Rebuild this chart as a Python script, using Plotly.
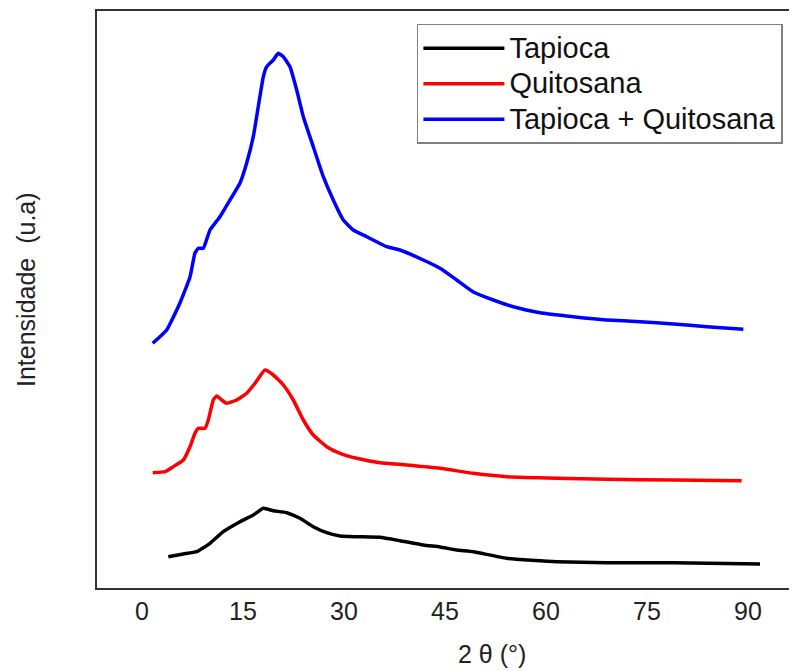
import plotly.graph_objects as go

# ---- data (2θ in degrees, intensity in arbitrary units) ----
tap_quit_x = [1.59, 3.67, 5.64, 7.13, 7.87, 8.36, 9.10, 10.10, 11.58, 13.07, 14.56, 15.55,
              16.53, 17.27, 18.02, 18.52, 19.50, 20.24, 20.99, 21.98, 22.98, 23.96, 25.44,
              26.93, 28.41, 29.90, 31.38, 33.37, 36.34, 38.32, 41.78, 44.26, 46.74, 49.21,
              52.18, 55.15, 59.11, 64.06, 69.02, 73.96, 78.91, 83.87, 89.31]
tap_quit_y = [244.7, 258, 285, 311, 335, 339.7, 339.7, 358, 371.3, 388, 405, 425,
              451.3, 481.3, 511.3, 521.3, 528, 534.7, 531.3, 521.3, 498, 471.3, 441.3,
              411.3, 388, 368, 358, 351.3, 341.3, 338, 328, 319.7, 308, 296,
              288, 281.3, 275.3, 271.3, 268, 266.3, 264, 261.3, 258.7]

quit_x = [1.59, 3.42, 4.65, 6.14, 7.13, 7.87, 8.36, 9.36, 9.85, 10.59, 11.10, 11.84,
          12.58, 14.07, 15.55, 16.78, 18.27, 19.50, 20.99, 22.47, 23.96, 25.44, 27.43,
          29.41, 31.89, 35.34, 39.31, 44.26, 49.21, 54.16, 61.58, 69.02, 78.91, 89.06]
quit_y = [115.3, 116.3, 121.3, 128, 141.3, 154.7, 159.7, 159.7, 168, 188, 192, 188,
          184.7, 188, 194.7, 204.7, 218, 213, 203, 188, 168, 153, 141.3,
          134.7, 129.7, 125.3, 123, 119.7, 114.7, 111.3, 109.7, 108.7, 108, 107.3]

tap_x = [3.91, 6.13, 8.12, 10.10, 12.07, 14.56, 16.53, 18.02, 19.50, 21.49, 23.46, 25.44,
         27.43, 29.41, 31.89, 35.34, 38.32, 41.78, 44.26, 46.74, 49.21, 54.16, 61.58,
         69.02, 78.91, 91.79]
tap_y = [31.3, 34, 36.3, 44.7, 56.3, 66.3, 73, 79.7, 77.3, 75.3, 69.7, 61.3,
         55.3, 52, 51.3, 50.7, 47.3, 43, 41, 38, 36.3, 29.7, 26.3,
         25.3, 25.3, 24]

series_names = ["Tapioca", "Quitosana", "Tapioca + Quitosana"]
series_colors = ["#000000", "#ff0000", "#0000ff"]
x_ticks = [0, 15, 30, 45, 60, 75, 90]

FONT = "Liberation Sans, Arial, sans-serif"

fig = go.Figure()
for name, color, xs, ys in zip(series_names, series_colors,
                               [tap_x, quit_x, tap_quit_x], [tap_y, quit_y, tap_quit_y]):
    fig.add_trace(go.Scatter(
        x=xs, y=ys, mode="lines",
        name='<span style="font-size:29px">' + name + '</span>',
        line=dict(color=color, width=3.5, shape="spline", smoothing=0.4)))

# the page body has an 8px default margin, so the figure is sized/placed to compensate
fig.update_layout(
    width=789, height=663,
    margin=dict(l=89, r=0, t=3, b=83),
    paper_bgcolor="white", plot_bgcolor="white",
    font=dict(family=FONT, color="#222222"),
    showlegend=True,
    legend=dict(x=0.457, y=0.9775, xanchor="left", yanchor="top",
                font=dict(size=25, family=FONT, color="#111111"),
                bordercolor="#808080", borderwidth=1.5, bgcolor="white",
                itemwidth=81, tracegroupgap=0),
    xaxis=dict(range=[-6.68, 97.28], tickvals=x_ticks, ticktext=[str(t) for t in x_ticks],
               showgrid=False, zeroline=False, showline=True, mirror=True,
               linecolor="#333333", linewidth=2, ticks="",
               tickfont=dict(size=25, family=FONT, color="#222222"),
               ticklabelstandoff=0),
    yaxis=dict(range=[0, 577], showticklabels=False, showgrid=False, zeroline=False,
               showline=True, mirror=False, linecolor="#333333", linewidth=2, ticks=""),
)

fig.add_annotation(text="2 θ (°)", xref="paper", yref="paper", x=0.564, y=-0.1144,
                   xanchor="center", yanchor="middle", showarrow=False,
                   font=dict(size=25, family=FONT, color="#222222"))
fig.add_annotation(text="Intensidade\u00a0 (u.a)", xref="paper", yref="paper",
                   x=-0.1014, y=0.5165, xanchor="center", yanchor="middle",
                   textangle=-90, showarrow=False,
                   font=dict(size=25, family=FONT, color="#222222"))

fig.write_html("out.html")
